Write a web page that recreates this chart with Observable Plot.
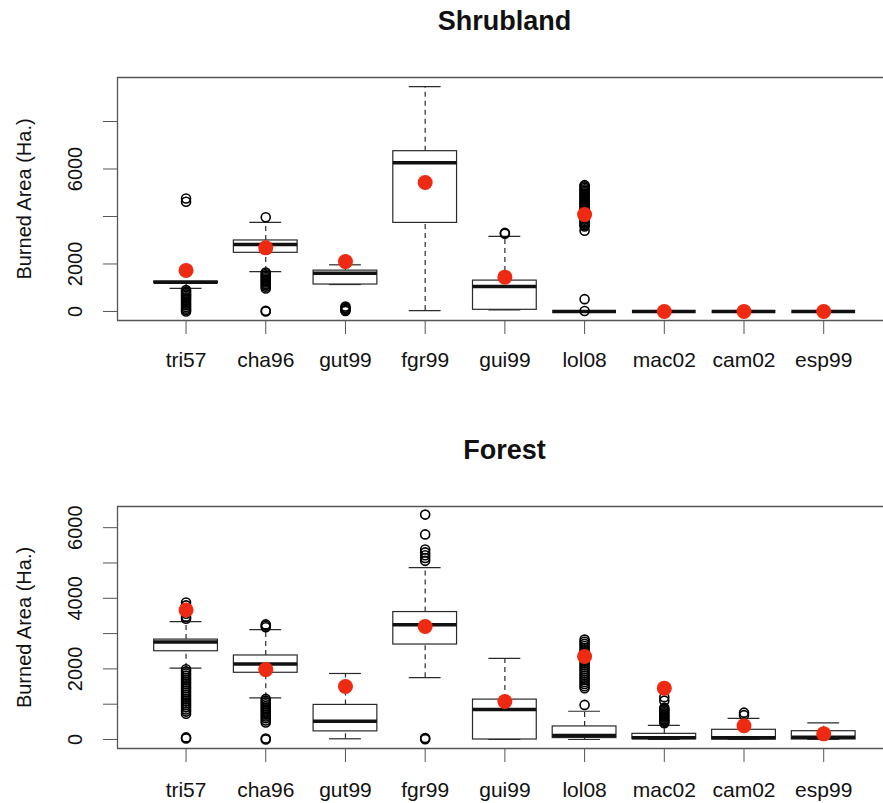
<!DOCTYPE html>
<html><head><meta charset="utf-8">
<script src="https://cdn.jsdelivr.net/npm/d3@7"></script>
<script src="https://cdn.jsdelivr.net/npm/@observablehq/plot@0.6"></script>
<style>
body{margin:0;background:#fff;}
#wrap{position:relative;width:883px;height:803px;overflow:hidden;font-family:"Liberation Sans",Arial,Helvetica,sans-serif;}
.title{position:absolute;left:126px;width:757px;text-align:center;font-weight:bold;font-size:27px;line-height:27px;color:#111;}
.panel{position:absolute;left:0;}
</style></head><body>
<div id="wrap">
 <div class="title" style="top:8px">Shrubland</div>
 <div class="panel" id="p1" style="top:40px"></div>
 <div class="title" style="top:437px">Forest</div>
 <div class="panel" id="p2" style="top:470px"></div>
</div>
<script>
const categories = ["tri57","cha96","gut99","fgr99","gui99","lol08","mac02","cam02","esp99"];
const yTitle = "Burned Area (Ha.)";

// Shrubland
const shrubQ1     = [1200, 2470, 1135, 3730,   70, 0, 0, 0, 0];
const shrubMedian = [1235, 2820, 1615, 6260, 1050, 0, 0, 0, 0];
const shrubQ3     = [1260, 2990, 1720, 6750, 1300, 0, 0, 0, 0];
const shrubLow    = [ 970, 1680, 1135,   40,   70, 0, 0, 0, 0];
const shrubHigh   = [1260, 3750, 1965, 9470, 3160, 0, 0, 0, 0];
const shrubMean   = [1730, 2680, 2100, 5430, 1445, 4080, 0, 0, 0];
const shrubOutliers = [
  [4760, 4620, 900, 840, 780, 720, 660, 600, 540, 470, 400, 330, 260, 190, 120, 60, 0],
  [3970, 1640, 1580, 1520, 1460, 1400, 1340, 1280, 1220, 1160, 1100, 1040, 970, 30, 0],
  [210, 160, 110, 60, 20],
  [],
  [3310, 3270],
  [5320, 5270, 5210, 5150, 5090, 5030, 4970, 4900, 4840, 4780, 4720, 4660, 4600, 4540, 4480, 4420, 4350, 4290, 4230, 4170, 4110, 4050, 3990, 3930, 3870, 3810, 3750, 3690, 3630, 3580, 3400, 520, 20],
  [], [], []
];
const shrubTicks  = [0, 2000, 4000, 6000, 8000];
const shrubLabels = [0, 2000, 6000];
const shrubDomain = [-380, 9853];

// Forest
const forestQ1     = [2500, 1890,  230, 2690,    0,  40,  10,   0,   0];
const forestMedian = [2760, 2140,  520, 3250,  850, 110,  50,  50,  65];
const forestQ3     = [2830, 2380,  980, 3610, 1130, 370, 160, 275, 235];
const forestLow    = [2020, 1180,   20, 1750,    0,   0,   0,   0,   0];
const forestHigh   = [3340, 3110, 1870, 4870, 2300, 800, 400, 600, 470];
const forestMean   = [3670, 1980, 1500, 3200, 1075, 2350, 1455, 390, 160];
const forestOutliers = [
  [3880, 3800, 3720, 3640, 3560, 3480, 3420, 1990, 1930, 1870, 1810, 1750, 1690, 1630, 1570, 1510, 1450, 1390, 1330, 1270, 1210, 1150, 1090, 1030, 970, 910, 850, 790, 730, 60, 30],
  [3260, 3220, 3180, 1150, 1100, 1050, 1000, 950, 900, 850, 800, 750, 700, 650, 600, 540, 480, 30, 0],
  [],
  [6370, 5810, 5380, 5300, 5220, 5140, 5060, 40, 10],
  [],
  [2830, 2770, 2710, 2650, 2590, 2530, 2470, 2410, 2350, 2290, 2230, 2170, 2110, 2050, 1990, 1930, 1870, 1810, 1750, 1690, 1630, 1570, 1510, 1450, 980],
  [1460, 1200, 1100, 900, 860, 820, 780, 740, 700, 660, 620, 580, 540, 500, 460],
  [760, 690],
  []
];
const forestTicks  = [0, 1000, 2000, 3000, 4000, 5000, 6000];
const forestLabels = [0, 2000, 4000, 6000];
const forestDomain = [-255, 6600];

const xDomain = [0.14, 9.75];
const FONT = '"Liberation Sans",Arial,Helvetica,sans-serif';
const RED = "#ee2a12";

function panel({q1, med, q3, lo, hi, mean, outliers, yDomain, ticks, labels, height, marginTop, marginBottom, labelDy}) {
  const idx = categories.map((c, i) => i + 1);
  const rows = categories.map((c, i) => ({c, x: i + 1, q1: q1[i], med: med[i], q3: q3[i], lo: lo[i], hi: hi[i], mean: mean[i]}));
  const out = outliers.flatMap((vals, i) => vals.map(v => ({x: i + 1, y: v})));
  const boxStroke = "#2a2a2a";
  return Plot.plot({
    width: 883, height, marginLeft: 117, marginRight: 0, marginTop, marginBottom,
    x: {domain: xDomain, axis: "bottom", ticks: idx, tickSize: 14, tickFormat: () => "", label: null},
    y: {domain: yDomain, axis: "left", ticks: ticks, tickSize: 14, tickFormat: () => "", label: null},
    style: {fontFamily: FONT, background: "transparent", color: "#555"},
    marks: [
      Plot.ruleX(rows, {x: "x", y1: "q3", y2: "hi", stroke: boxStroke, strokeWidth: 1.2, strokeDasharray: "5,4"}),
      Plot.ruleX(rows, {x: "x", y1: "lo", y2: "q1", stroke: boxStroke, strokeWidth: 1.2, strokeDasharray: "5,4"}),
      Plot.ruleY(rows, {y: "hi", x1: d => d.x - 0.2, x2: d => d.x + 0.2, stroke: boxStroke, strokeWidth: 1.2}),
      Plot.ruleY(rows, {y: "lo", x1: d => d.x - 0.2, x2: d => d.x + 0.2, stroke: boxStroke, strokeWidth: 1.2}),
      Plot.rect(rows, {x1: d => d.x - 0.4, x2: d => d.x + 0.4, y1: "q1", y2: "q3", fill: "white", stroke: boxStroke, strokeWidth: 1.2}),
      Plot.ruleY(rows, {y: "med", x1: d => d.x - 0.4, x2: d => d.x + 0.4, stroke: "#111", strokeWidth: 3.5}),
      Plot.dot(out, {x: "x", y: "y", r: 4.5, stroke: "#000", strokeWidth: 1.6, fill: "none"}),
      Plot.dot(rows, {x: "x", y: "mean", r: 7.5, fill: RED, stroke: "none"}),
      Plot.ruleY([yDomain[0], yDomain[1]], {stroke: "#555", strokeWidth: 1.3}),
      Plot.ruleX([xDomain[0]], {stroke: "#555", strokeWidth: 1.3}),
      Plot.text(labels, {y: d => d, text: d => String(d), frameAnchor: "left", textAnchor: "middle", lineAnchor: "middle", dx: -42, rotate: -90, fontSize: 20, fill: "#111"}),
      Plot.text([yTitle], {text: d => d, frameAnchor: "left", textAnchor: "middle", lineAnchor: "middle", dx: -93, rotate: -90, fontSize: 20, fill: "#111"}),
      Plot.text(categories, {x: (d, i) => i + 1, text: d => d, frameAnchor: "bottom", dy: labelDy, lineAnchor: "middle", fontSize: 21, fill: "#111"})
    ]
  });
}

document.getElementById("p1").append(panel({
  q1: shrubQ1, med: shrubMedian, q3: shrubQ3, lo: shrubLow, hi: shrubHigh, mean: shrubMean,
  outliers: shrubOutliers, yDomain: shrubDomain, ticks: shrubTicks, labels: shrubLabels,
  height: 350, marginTop: 37, marginBottom: 70, labelDy: 40
}));
document.getElementById("p2").append(panel({
  q1: forestQ1, med: forestMedian, q3: forestQ3, lo: forestLow, hi: forestHigh, mean: forestMean,
  outliers: forestOutliers, yDomain: forestDomain, ticks: forestTicks, labels: forestLabels,
  height: 333, marginTop: 36, marginBottom: 55, labelDy: 42
}));
</script>
</body></html>
